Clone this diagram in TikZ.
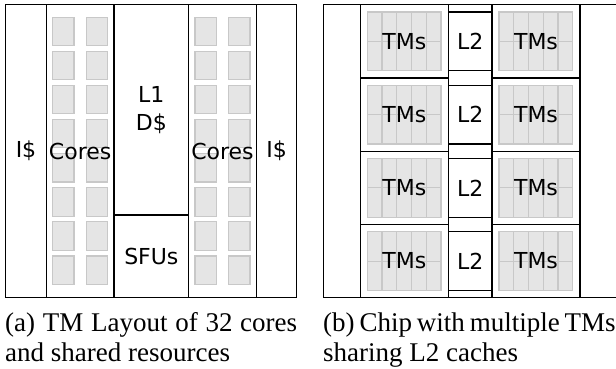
\documentclass[tikz,border=0pt]{standalone}
\usepackage{fontspec}
\setmainfont{Liberation Serif}
\newfontfamily\dvfont{DejaVu Sans}
\definecolor{coregray}{HTML}{E5E5E5}
\definecolor{coreedge}{HTML}{C8C8C8}
\begin{document}
\begin{tikzpicture}[x=1pt,y=-1pt,
  frame/.style={draw=black,line width=1.3pt,inner sep=0pt,outer sep=0pt},
  corebox/.style={fill=coregray,draw=coreedge,line width=1.1pt},
  lbl/.style={font=\dvfont\fontsize{22}{28}\selectfont,inner sep=0pt,align=center},
  captext/.style={font=\fontsize{27}{30}\selectfont,inner sep=0pt,anchor=base west,align=justify}]
\clip (0,0) rectangle (616,368);
% ---------- panel (a): core squares
\foreach \cx in {52.7,86.3,195,228.7}
  \foreach \k in {0,...,7}
    \draw[corebox] (\cx,{17.3+34.1*\k}) rectangle ++(21.3,28.3);
% ---------- panel (a): regions
\node[frame,lbl,minimum width=40.6pt,minimum height=293pt,anchor=north west] (ia) at (5.7,4.7) {I\$};
\node[frame,lbl,minimum width=67.7pt,minimum height=293pt,anchor=north west] (ca) at (46.3,4.7) {Cores};
\node[frame,lbl,minimum width=74.7pt,minimum height=210.3pt,anchor=north west] (l1) at (114,4.7) {L1\\D\$};
\node[frame,lbl,minimum width=74.7pt,minimum height=82.7pt,anchor=north west] (sfu) at (114,215) {SFUs};
\node[frame,lbl,minimum width=67.6pt,minimum height=293pt,anchor=north west] (cb) at (188.7,4.7) {Cores};
\node[frame,lbl,minimum width=40.4pt,minimum height=293pt,anchor=north west] (ib) at (256.3,4.7) {I\$};
% ---------- panel (b): outer frame (runs past the right edge)
\draw[frame] (630,4.7) -| (323.3,297.7) -- (630,297.7);
% ---------- panel (b): TM blocks and L2 caches
\foreach \r in {0,1,2,3}{
  \foreach \c/\nm in {360.3/l,492/r}{
    \node[frame,minimum width=88pt,minimum height=73.25pt,anchor=north west] (tm\nm\r) at (\c,{4.7+73.25*\r}) {};
    \foreach \i in {0,...,4}
      \foreach \j in {0,1}
        \draw[corebox] ({\c+7+14.74*\i},{4.7+73.25*\r+7.3+29.35*\j}) rectangle ++(14.74,29.35);
    \node[lbl] at (tm\nm\r.center) {TMs};
  }
  \node[frame,lbl,minimum width=43.7pt,minimum height=58.7pt] (l2\r) at (470.15,{41.33+73.25*\r}) {L2};
}
% ---------- captions
\node[captext,text width=292pt] (capa) at (5,331.7) {(a) TM Layout of 32 cores and shared resources};
\node[captext,text width=292.5pt] (capb) at (323,331.7) {(b) Chip with multiple TMs sharing L2 caches};
\end{tikzpicture}
\end{document}
